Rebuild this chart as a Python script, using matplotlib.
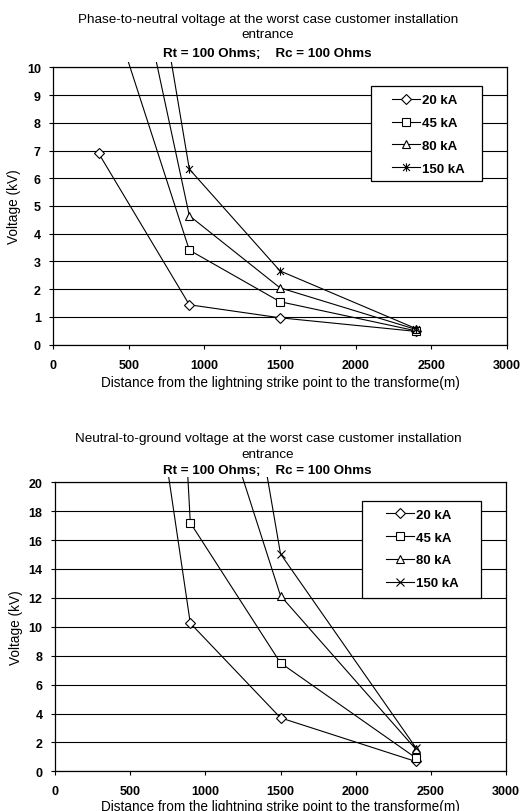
import matplotlib.pyplot as plt
from matplotlib.path import Path
from matplotlib.patches import Rectangle
import numpy as np

plt.rcParams['font.family'] = ['Liberation Sans', 'DejaVu Sans']

distance = [300, 900, 1500, 2400]
labels = ['20 kA', '45 kA', '80 kA', '150 kA']

# phase-to-neutral voltage (kV)
pn_20 = [6.9, 1.44, 0.97, 0.48]
pn_45 = [13.5, 3.41, 1.55, 0.50]
pn_80 = [19.9, 4.65, 2.05, 0.55]
pn_150 = [25.8, 6.33, 2.66, 0.58]

# neutral-to-ground voltage (kV)
ng_20 = [52.5, 10.25, 3.7, 0.68]
ng_45 = [133.0, 17.2, 7.5, 0.93]
ng_80 = [np.nan, 31.6, 12.15, 1.53]
ng_150 = [np.nan, 51.4, 15.05, 1.64]

star = Path([(-1, -1), (1, 1), (-1, 1), (1, -1), (0, -1.2), (0, 1.2)],
            [Path.MOVETO, Path.LINETO, Path.MOVETO, Path.LINETO, Path.MOVETO, Path.LINETO])

W, H = 521, 812
fig = plt.figure(figsize=(W / 100, H / 100), dpi=100)


def make_axes(left, top, right, bottom):
    return fig.add_axes([left / W, 1 - bottom / H, (right - left) / W, (bottom - top) / H])


def draw_chart(ax, series, markers, ymax, ystep, title, title_y, box, leg_dx, xlab_pad):
    for vals, m, lab in zip(series, markers, labels):
        ms = 4.8 if m == 'D' else 6
        line, = ax.plot(distance, vals, color='black', lw=0.8, marker=m,
                        markersize=ms, markerfacecolor='white',
                        markeredgecolor='black', markeredgewidth=0.8, label=lab)
        line.set_clip_path(Rectangle((0, 0), 1, 1.018, transform=ax.transAxes))
    ax.set_xlim(0, 3000)
    ax.set_ylim(0, ymax)
    ax.set_xticks(np.arange(0, 3001, 500))
    ax.set_yticks(np.arange(0, ymax + 0.1, ystep))
    ax.grid(axis='y', color='black', lw=0.8)
    ax.set_axisbelow(True)
    ax.tick_params(direction='out', length=3, width=0.8, labelsize=9)
    ax.tick_params(axis='x', pad=7)
    ax.tick_params(axis='y', pad=6)
    for t in ax.get_xticklabels() + ax.get_yticklabels():
        t.set_fontweight('bold')
    for s in ax.spines.values():
        s.set_linewidth(0.9)
    ax.set_xlabel('Distance from the lightning strike point to the transforme(m)',
                  fontsize=9.8, labelpad=xlab_pad)
    ax.set_ylabel('Voltage (kV)', fontsize=9.8, labelpad=4)

    # title lines, centred at given pixel heights
    y1, y2, y3 = title_y
    line1, line2 = title.split('\n')
    fig.text(268 / W, 1 - y1 / H, line1, ha='center', va='center', fontsize=9.7)
    fig.text(268 / W, 1 - y2 / H, line2, ha='center', va='center', fontsize=9.7)
    fig.text(267 / W, 1 - y3 / H, 'Rt = 100 Ohms;    Rc = 100 Ohms',
             ha='center', va='center', fontsize=9.6, fontweight='bold')

    # legend box (pixel coords of figure) and entries
    bx0, by0, bx1, by1 = box
    ax.add_patch(Rectangle((bx0 / W, 1 - by1 / H), (bx1 - bx0) / W, (by1 - by0) / H,
                           transform=fig.transFigure, facecolor='white',
                           edgecolor='black', lw=0.9, zorder=5, clip_on=False))
    leg = ax.legend(loc='upper left',
                    bbox_to_anchor=((bx0 + leg_dx) / W, 1 - (by0 + 4) / H),
                    bbox_transform=fig.transFigure, frameon=False,
                    prop={'weight': 'bold', 'size': 9.5}, handlelength=2.1,
                    labelspacing=0.8, borderpad=0.3, handletextpad=0.2, borderaxespad=0)
    leg.set_zorder(6)


ax1 = make_axes(53.3, 68.3, 506.7, 345.7)
draw_chart(ax1, [pn_20, pn_45, pn_80, pn_150], ['D', 's', '^', star], 10, 1,
           'Phase-to-neutral voltage at the worst case customer installation\nentrance',
           (20, 35, 54), (371, 87.3, 482, 181.7), 17, 3)

ax2 = make_axes(55, 483.3, 506, 772.3)
draw_chart(ax2, [ng_20, ng_45, ng_80, ng_150], ['D', 's', '^', 'x'], 20, 2,
           'Neutral-to-ground voltage at the worst case customer installation\nentrance',
           (439.5, 455, 471.5), (362, 501.7, 481, 599.3), 20, 1)

fig.savefig('out.png', dpi=100)
